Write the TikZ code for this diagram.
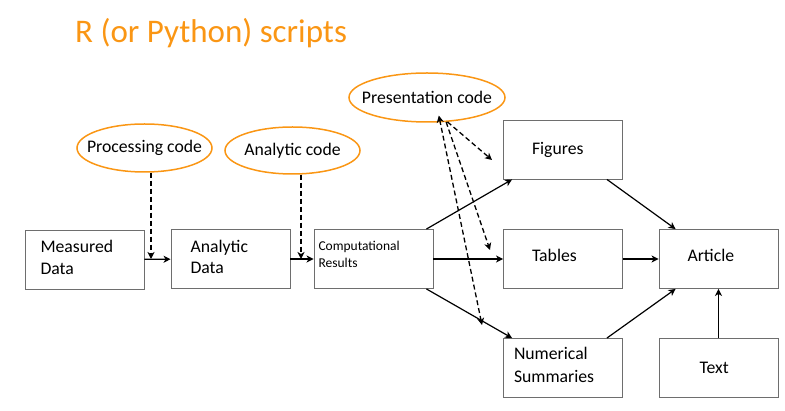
\documentclass[tikz,border=0pt]{standalone}
\usepackage{fontspec}
\setmainfont{Carlito}
\usetikzlibrary{shapes.geometric,arrows.meta}
\definecolor{scriptorange}{RGB}{250,150,20}
\definecolor{boxgray}{RGB}{110,110,110}
\tikzset{
  databox/.style={draw=boxgray, line width=0.9pt, rectangle, minimum width=119pt,
    minimum height=59pt, inner ysep=0pt, align=left,
    font=\fontsize{17.7}{21.5}\selectfont},
  codeoval/.style={draw=scriptorange, line width=1.5pt, ellipse, inner sep=0pt,
    font=\fontsize{17.7}{21.5}\selectfont},
  flow/.style={line width=1.2pt, -{Stealth[length=7pt,width=7pt,inset=2pt]}},
  codeflow/.style={line width=1.3pt, dash pattern=on 5pt off 3pt,
    -{Stealth[length=7pt,width=7pt,inset=2pt]}},
  bothflow/.style={line width=1.3pt, dash pattern=on 5pt off 3pt,
    {Stealth[length=7pt,width=7pt,inset=2pt]}-{Stealth[length=7pt,width=7pt,inset=2pt]}},
}
\begin{document}
\begin{tikzpicture}[x=1pt,y=-1pt]
\useasboundingbox (0,0) rectangle (785,411);

\node[anchor=base west, text=scriptorange, inner sep=0pt,
  font=\fontsize{33}{40}\selectfont] (title) at (75,43) {R (or Python) scripts};

% code ovals
\node[codeoval, minimum width=135pt, minimum height=48pt] (proc) at (144.5,148) {\makebox[0pt]{Processing code}};
\node[codeoval, minimum width=135pt, minimum height=47pt] (anac) at (292.5,150.5) {\makebox[0pt]{Analytic code}};
\node[codeoval, minimum width=156pt, minimum height=49pt] (pres) at (427,97.5) {\makebox[0pt]{Presentation code}};

% boxes
\node[databox, inner xsep=15pt, text width=88pt, text depth=25.5pt] (meas) at (84.5,259.5) {Measured\\Data};
\node[databox, inner xsep=19pt, text width=80pt, text depth=25.5pt] (anal) at (230.5,259) {Analytic\\Data};
\node[databox, inner xsep=4pt, text width=110pt, text depth=26pt,
  font=\fontsize{13.5}{17}\selectfont] (comp) at (373.5,259) {Computational\\Results};
\node[databox, inner xsep=28pt, text width=62pt, text depth=3pt] (fig) at (563,149.5) {Figures};
\node[databox, inner xsep=28pt, text width=62pt, text depth=7pt] (tab) at (563,259) {Tables};
\node[databox, inner xsep=10pt, text width=98pt, text depth=30pt,
  font=\fontsize{17.7}{23}\selectfont] (num) at (563,368) {Numerical\\Summaries};
\node[databox, inner xsep=28pt, text width=62pt, text depth=8pt] (art) at (718.5,259) {Article};
\node[databox, inner xsep=40pt, text width=38pt] (txt) at (718.5,368) {Text};

% junctions and free ends
\coordinate (j1) at (151,259);
\coordinate (j2) at (301,259);
\coordinate (pf) at (492,160);
\coordinate (pt) at (490,250);
\coordinate (pn) at (482,325);

% solid flows
\draw[flow] (meas) -- (anal);
\draw[flow] (anal) -- (comp);
\draw[flow] (comp) -- (tab);
\draw[flow] ([xshift=-7pt]comp.north east) -- ([xshift=9pt]fig.south west);
\draw[flow] ([xshift=-7pt]comp.south east) -- ([xshift=9pt]num.north west);
\draw[flow] (tab) -- (art);
\draw[flow] ([xshift=-16pt]fig.south east) -- ([xshift=17pt]art.north west);
\draw[flow] ([xshift=-16pt]num.north east) -- ([xshift=17pt]art.south west);
\draw[flow] (txt) -- (art);

% dashed code flows
\draw[codeflow] (j1 |- proc.south) -- (j1);
\draw[codeflow] (j2 |- anac.south) -- (j2);
\draw[codeflow] (pres.-50) -- (pf);
\draw[codeflow] (pres.-52) -- (pt);
\draw[bothflow, shorten <=-7pt] (pres.-62) -- (pn);
\end{tikzpicture}
\end{document}
